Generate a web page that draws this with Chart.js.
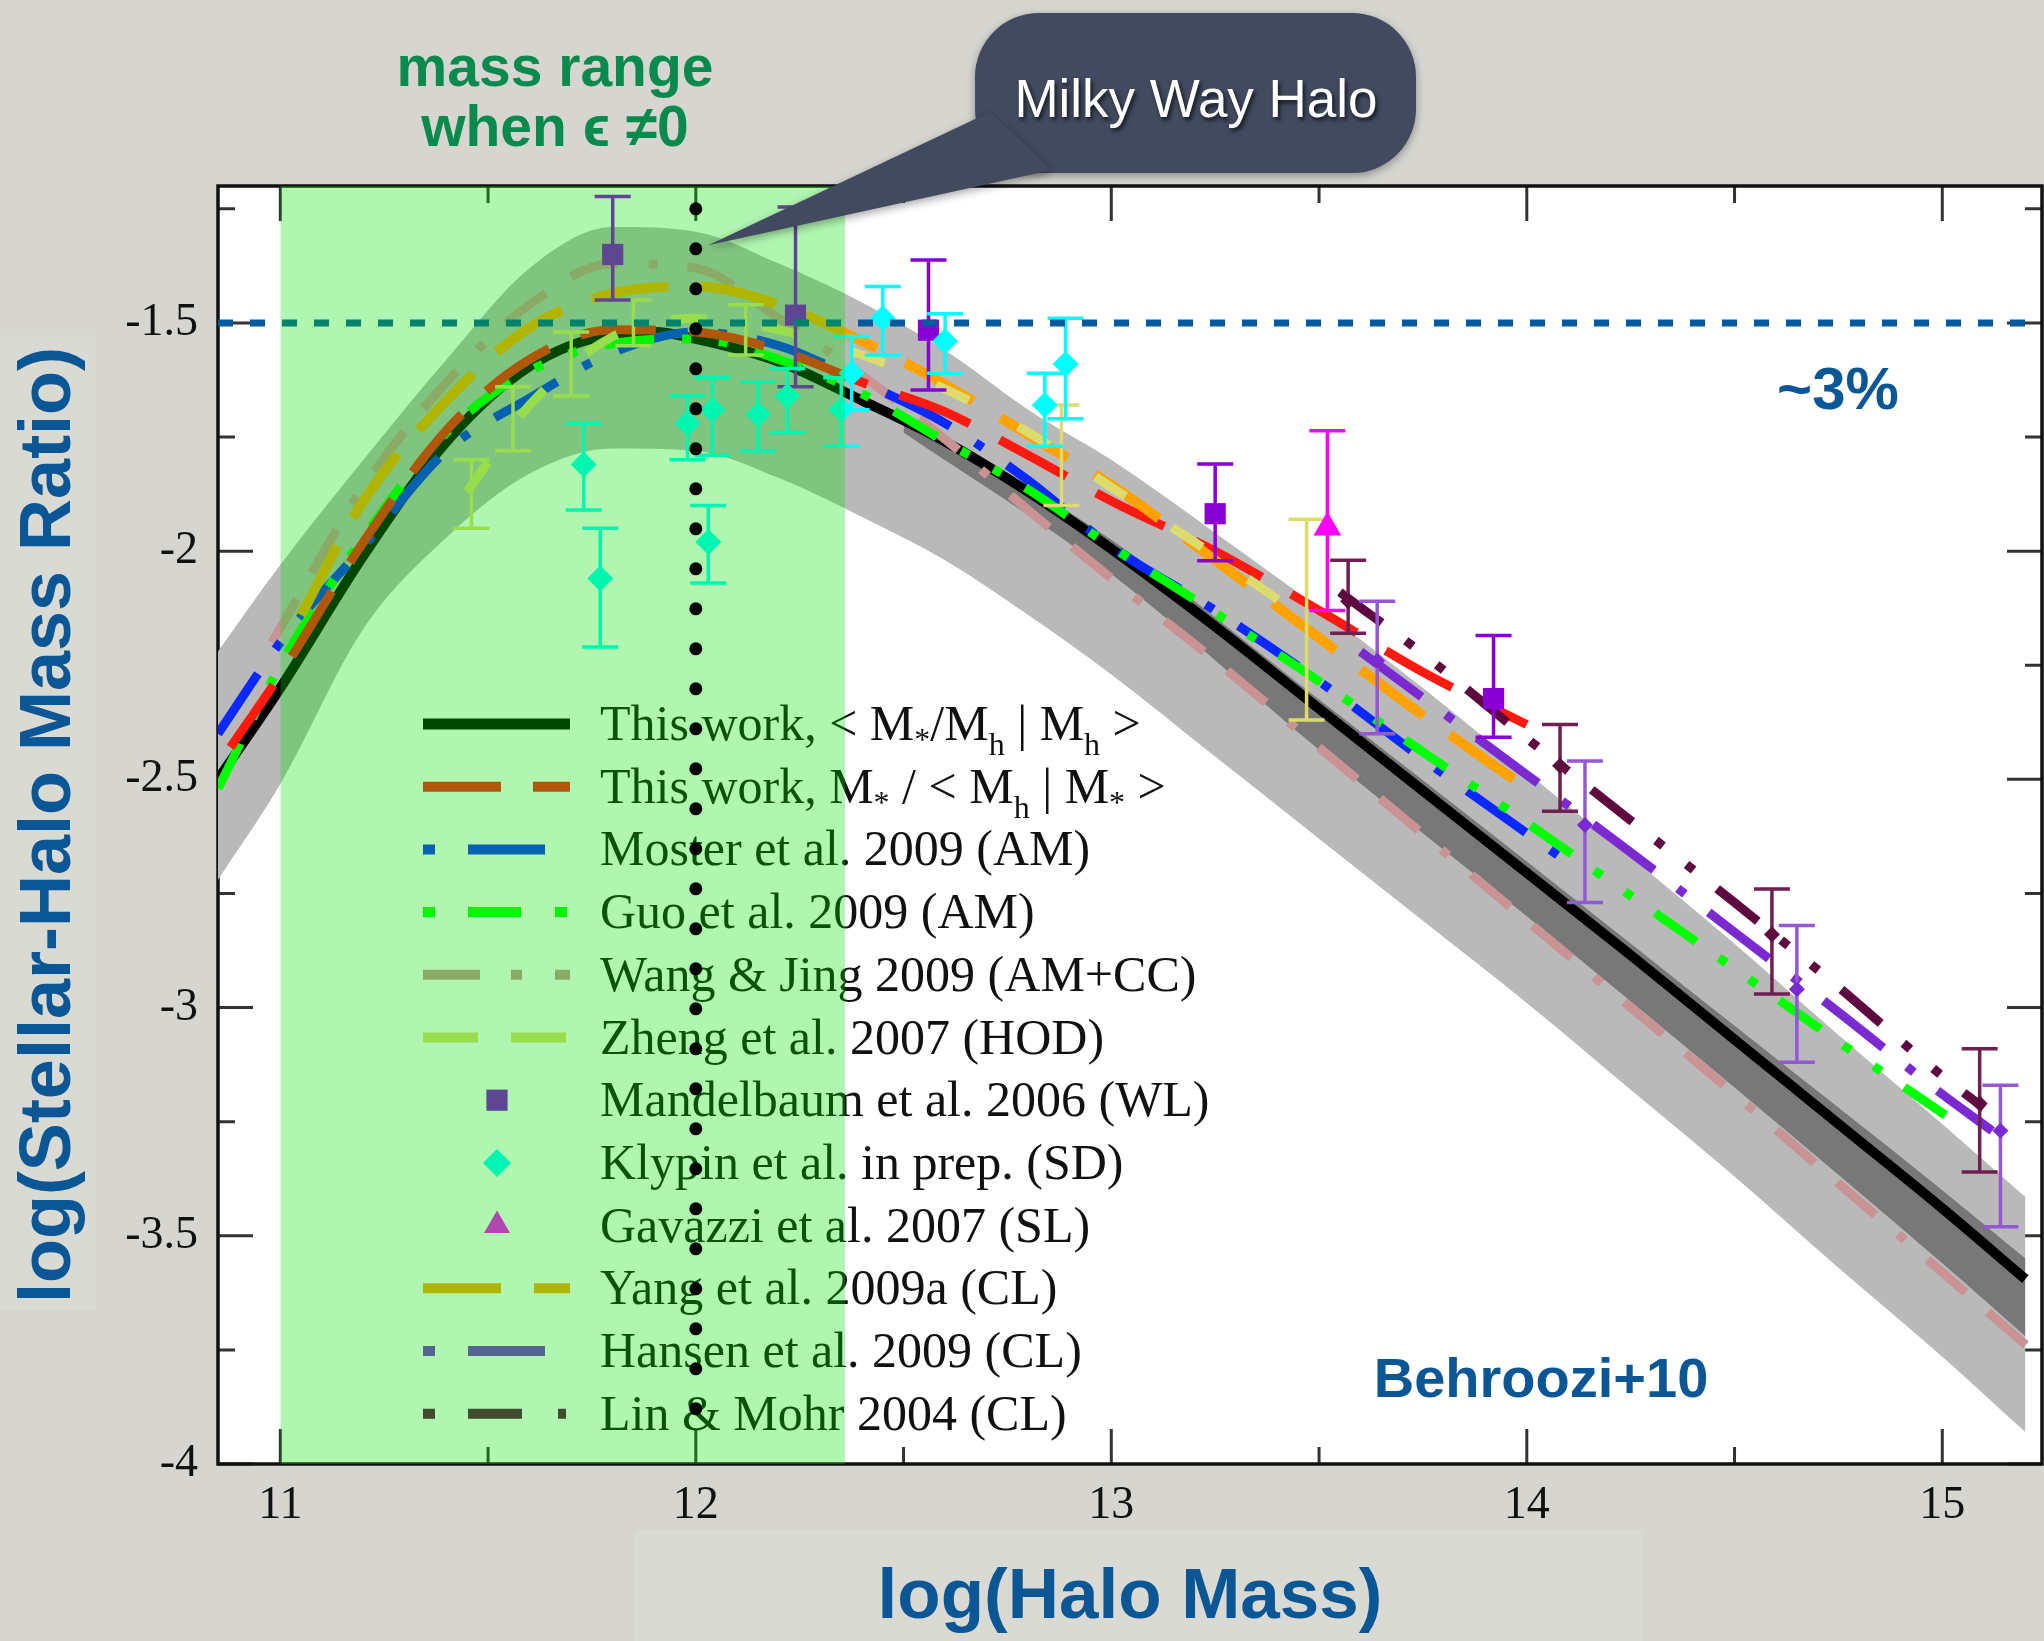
<!DOCTYPE html>
<html>
<head>
<meta charset="utf-8">
<title>Stellar-halo mass ratio</title>
<script src="https://cdn.jsdelivr.net/npm/chart.js@4.4.1/dist/chart.umd.min.js"></script>
<style>
  html, body { margin: 0; padding: 0; background: #d6d5d0; overflow: hidden; }
  #wrap { position: relative; width: 2044px; height: 1641px; }
  #smhm { display: block; }
</style>
</head>
<body>
<div id="wrap"><canvas id="smhm" width="2044" height="1641"></canvas></div>
<script>
// axis ranges and ticks
const xMin = 10.85, xMax = 15.24;
const yMin = -4, yMax = -1.2;
const xTickValues = [11, 12, 13, 14, 15];
const xMinorValues = [11.5, 12.5, 13.5, 14.5];
const yTickValues = [-4, -3.5, -3, -2.5, -2, -1.5];
const yMinorValues = [-3.75, -3.25, -2.75, -2.25, -1.75, -1.25];

// grey scatter band around "this work"
const bandX    = [10.85, 11.0, 11.2, 11.4, 11.6, 11.8, 12.0, 12.2, 12.4, 12.6, 12.8, 13.0, 13.25, 13.5, 13.75, 14.0, 14.25, 14.5, 14.75, 15.0, 15.2];
const bandHigh = [-2.22, -2.03, -1.80, -1.58, -1.38, -1.29, -1.30, -1.37, -1.455, -1.56, -1.69, -1.80, -1.96, -2.125, -2.30, -2.485, -2.67, -2.86, -3.06, -3.255, -3.415];
const bandLow  = [-2.72, -2.51, -2.17, -1.97, -1.83, -1.775, -1.78, -1.84, -1.925, -2.02, -2.14, -2.27, -2.45, -2.63, -2.81, -2.99, -3.18, -3.37, -3.57, -3.765, -3.93];
const innerX    = [12.5, 13.0, 13.5, 14.0, 14.5, 15.0, 15.2];
const innerHigh = [-1.70, -1.975, -2.325, -2.68, -3.04, -3.40, -3.55];
const innerLow  = [-1.74, -2.05, -2.435, -2.80, -3.175, -3.56, -3.72];

// model curves
const thisWorkX = [10.85, 11.0, 11.2, 11.4, 11.6, 11.8, 11.9, 12.0, 12.2, 12.4, 12.6, 12.8, 13.0, 13.25, 13.5, 13.75, 14.0, 14.25, 14.5, 14.75, 15.0, 15.2];
const thisWorkY = [-2.50, -2.30, -2.01, -1.76, -1.595, -1.525, -1.52, -1.535, -1.585, -1.67, -1.76, -1.87, -1.995, -2.165, -2.345, -2.525, -2.705, -2.885, -3.07, -3.255, -3.44, -3.595];
const altX = [10.88, 11.0, 11.2, 11.4, 11.6, 11.8, 12.0, 12.2, 12.4, 12.6, 12.8, 13.0, 13.25, 13.5, 13.75, 14.0];
const altY = [-2.43, -2.27, -1.98, -1.735, -1.58, -1.515, -1.52, -1.56, -1.63, -1.695, -1.79, -1.89, -2.0, -2.13, -2.265, -2.38];
const mosterX = [10.85, 11.0, 11.2, 11.4, 11.6, 11.8, 12.0, 12.2, 12.4, 12.6, 12.8, 13.0, 13.25, 13.5, 13.75, 14.08];
const mosterY = [-2.40, -2.20, -1.99, -1.78, -1.665, -1.565, -1.52, -1.55, -1.63, -1.72, -1.845, -1.99, -2.13, -2.285, -2.455, -2.67];
const guoX = [10.85, 11.0, 11.2, 11.4, 11.6, 11.8, 12.0, 12.2, 12.4, 12.6, 12.8, 13.0, 13.25, 13.5, 13.75, 14.0, 14.25, 14.5, 14.75, 15.03];
const guoY = [-2.52, -2.25, -1.97, -1.74, -1.605, -1.545, -1.535, -1.58, -1.655, -1.76, -1.865, -1.99, -2.135, -2.285, -2.44, -2.595, -2.755, -2.915, -3.075, -3.25];
const wangX = [10.98, 11.2, 11.4, 11.6, 11.8, 12.0, 12.2, 12.4, 12.6, 12.8, 13.0, 13.25, 13.5, 13.75, 14.0, 14.25, 14.5, 14.75, 15.0, 15.24];
const wangY = [-2.2, -1.86, -1.63, -1.46, -1.37, -1.38, -1.49, -1.615, -1.755, -1.91, -2.06, -2.24, -2.43, -2.62, -2.81, -3.0, -3.19, -3.385, -3.58, -3.77];
const zhengX = [11.45, 11.6, 11.8, 12.0, 12.2, 12.4, 12.6, 12.8, 13.0, 13.2, 13.47];
const zhengY = [-1.87, -1.68, -1.53, -1.49, -1.515, -1.57, -1.645, -1.74, -1.86, -1.98, -2.15];
const yangX = [11.05, 11.2, 11.4, 11.6, 11.8, 12.0, 12.2, 12.4, 12.6, 12.8, 13.0, 13.25, 13.5, 13.75, 14.0];
const yangY = [-2.14, -1.89, -1.67, -1.51, -1.435, -1.42, -1.46, -1.54, -1.635, -1.745, -1.855, -2.02, -2.19, -2.36, -2.52];
const hansenX = [13.6, 13.8, 14.0, 14.25, 14.5, 14.75, 15.0, 15.12];
const hansenY = [-2.22, -2.355, -2.49, -2.66, -2.835, -3.01, -3.19, -3.27];
const linX = [13.55, 13.75, 14.0, 14.25, 14.5, 14.75, 15.0, 15.1];
const linY = [-2.09, -2.225, -2.41, -2.59, -2.77, -2.955, -3.15, -3.22];

// data points with error bars
const mandX  = [11.80, 12.24, 12.56, 13.25, 13.92];
const mandY  = [-1.35, -1.483, -1.516, -1.918, -2.323];
const mandLo = [-1.45, -1.64, -1.647, -2.021, -2.408];
const mandHi = [-1.223, -1.246, -1.362, -1.809, -2.185];
const klypinX  = [11.73, 11.77, 11.98, 12.03, 12.04, 12.15, 12.22, 12.35, 12.375, 12.45, 12.60, 12.84, 12.89];
const klypinY  = [-1.81, -2.06, -1.72, -1.98, -1.69, -1.70, -1.66, -1.69, -1.61, -1.49, -1.54, -1.68, -1.59];
const klypinLo = [-1.91, -2.21, -1.80, -2.07, -1.79, -1.78, -1.74, -1.77, -1.69, -1.57, -1.61, -1.77, -1.71];
const klypinHi = [-1.72, -1.95, -1.66, -1.90, -1.62, -1.63, -1.60, -1.62, -1.53, -1.42, -1.48, -1.61, -1.49];
const gavX = [13.52], gavY = [-1.948], gavLo = [-2.13], gavHi = [-1.736];
const zhengErrX  = [11.46, 11.56, 11.70, 11.85, 12.12, 12.88, 13.47];
const zhengErrY  = [-1.87, -1.71, -1.59, -1.50, -1.51, -1.79, -2.15];
const zhengErrLo = [-1.95, -1.78, -1.66, -1.55, -1.57, -1.90, -2.37];
const zhengErrHi = [-1.80, -1.64, -1.52, -1.45, -1.46, -1.68, -1.93];
const linPtX  = [13.57, 14.08, 14.59, 15.09];
const linPtY  = [-2.11, -2.47, -2.84, -3.21];
const linPtLo = [-2.18, -2.57, -2.97, -3.36];
const linPtHi = [-2.02, -2.38, -2.74, -3.09];
const hanPtX  = [13.64, 14.14, 14.65, 15.14];
const hanPtY  = [-2.24, -2.60, -2.96, -3.27];
const hanPtLo = [-2.40, -2.77, -3.12, -3.48];
const hanPtHi = [-2.11, -2.46, -2.82, -3.17];

// reference marks
const threePercent = -1.5;
const massRange = [11.0, 12.36];
const milkyWay = 12.0;
const milkyWaySpan = [-1.25, -3.9];

const fontSerif = '"Liberation Serif", "Times New Roman", serif';
const fontSans = '"Liberation Sans", Arial, "DejaVu Sans", sans-serif';
const titleBlue = '#0b5796';

const styles = {
  thisWork: {color: '#000000', width: 10, dash: []},
  alt:      {color: '#ff1a10', width: 9, dash: [76, 34]},
  moster:   {color: '#0a28ff', width: 9, dash: [72, 30, 9, 30]},
  guo:      {color: '#00ff00', width: 9, dash: [50, 28, 9, 28, 9, 28]},
  wang:     {color: '#c99393', width: 9, dash: [50, 30, 50, 30, 9, 30]},
  zheng:    {color: '#dcdc6e', width: 9, dash: [36, 56]},
  yang:     {color: '#ffa200', width: 10, dash: [78, 32]},
  hansen:   {color: '#7a2ad0', width: 9, dash: [76, 30, 9, 30]},
  lin:      {color: '#5e0a40', width: 9, dash: [52, 30, 9, 30, 9, 30]}
};
const mandColor = '#8a00d4', klypinColor = '#00ffff', gavColor = '#ff00ff';

const legendRows = [
  {text: 'This work, < M_{*}/M_{h} | M_{h} >', st: styles.thisWork, dash: []},
  {text: 'This work, M_{*} / < M_{h} | M_{*} >', st: styles.alt, dash: [78, 32]},
  {text: 'Moster et al. 2009 (AM)', st: styles.moster, dash: [12, 33, 77, 40]},
  {text: 'Guo et al. 2009 (AM)', st: styles.guo, dash: [12, 33, 53, 34, 12, 40]},
  {text: 'Wang & Jing 2009 (AM+CC)', st: styles.wang, dash: [57, 31, 11, 33, 15, 40]},
  {text: 'Zheng et al. 2007 (HOD)', st: styles.zheng, dash: [55, 33]},
  {text: 'Mandelbaum et al. 2006 (WL)', marker: 'rect', color: mandColor, r: 15},
  {text: 'Klypin et al. in prep. (SD)', marker: 'rectRot', color: klypinColor, r: 14},
  {text: 'Gavazzi et al. 2007 (SL)', marker: 'triangle', color: gavColor, r: 15},
  {text: 'Yang et al. 2009a (CL)', st: styles.yang, dash: [78, 33]},
  {text: 'Hansen et al. 2009 (CL)', st: styles.hansen, dash: [12, 33, 77, 40]},
  {text: 'Lin & Mohr 2004 (CL)', st: styles.lin, dash: [12, 33, 54, 36, 8, 40]}
];

const pts = (xs, ys) => xs.map((x, i) => ({x: x, y: ys[i]}));

function curve(label, xs, ys, st, order) {
  return {
    label: label, data: pts(xs, ys), order: order,
    borderColor: st.color, borderWidth: st.width, borderDash: st.dash,
    borderCapStyle: 'butt', pointRadius: 0, fill: false,
    cubicInterpolationMode: 'monotone'
  };
}

function markers(label, xs, ys, lo, hi, color, style, radius, order, barColor) {
  return {
    label: label, data: pts(xs, ys), order: order, showLine: false,
    pointStyle: style, pointRadius: radius, pointBorderWidth: 0,
    pointBackgroundColor: color, backgroundColor: color, borderColor: color,
    errLo: lo, errHi: hi, errColor: barColor || color
  };
}

const datasets = [
  {label: 'milky way', data: [{x: milkyWay, y: milkyWaySpan[0]}, {x: milkyWay, y: milkyWaySpan[1]}],
   borderColor: '#000', borderWidth: 13, borderDash: [0, 40], borderCapStyle: 'round',
   pointRadius: 0, order: 1},
  {label: 'mass range', data: [{x: massRange[0], y: yMax}, {x: massRange[1], y: yMax}],
   borderWidth: 0, pointRadius: 0, fill: 'start', backgroundColor: 'rgba(0,226,0,0.31)', order: 2},
  {label: '3%', data: [{x: xMin, y: threePercent}, {x: xMax, y: threePercent}],
   borderColor: '#005a9c', borderWidth: 7, borderDash: [15, 17], pointRadius: 0, order: 3},
  markers('Gavazzi', gavX, gavY, gavLo, gavHi, gavColor, 'triangle', 16, 4),
  markers('Klypin', klypinX, klypinY, klypinLo, klypinHi, klypinColor, 'rectRot', 13, 5),
  markers('Mandelbaum', mandX, mandY, mandLo, mandHi, mandColor, 'rect', 15, 6),
  markers('Zheng err', zhengErrX, zhengErrY, zhengErrLo, zhengErrHi, styles.zheng.color, 'circle', 0, 6.5),
  markers('Hansen pts', hanPtX, hanPtY, hanPtLo, hanPtHi, '#7a2ad0', 'rectRot', 8, 7, '#9458d6'),
  markers('Lin pts', linPtX, linPtY, linPtLo, linPtHi, '#5e0a40', 'rectRot', 8, 8, '#6e2050'),
  curve('Lin & Mohr', linX, linY, styles.lin, 9),
  curve('Hansen', hansenX, hansenY, styles.hansen, 10),
  curve('Zheng', zhengX, zhengY, styles.zheng, 11),
  curve('Yang', yangX, yangY, styles.yang, 12),
  curve('This work alt', altX, altY, styles.alt, 13),
  curve('Guo', guoX, guoY, styles.guo, 14),
  curve('Moster', mosterX, mosterY, styles.moster, 15),
  curve('Wang & Jing', wangX, wangY, styles.wang, 16),
  curve('This work', thisWorkX, thisWorkY, styles.thisWork, 17),
  {label: 'inner high', data: pts(innerX, innerHigh), borderWidth: 0, pointRadius: 0,
   fill: '+1', backgroundColor: '#787878', cubicInterpolationMode: 'monotone', order: 18},
  {label: 'inner low', data: pts(innerX, innerLow), borderWidth: 0, pointRadius: 0,
   cubicInterpolationMode: 'monotone', order: 18},
  {label: 'band high', data: pts(bandX, bandHigh), borderWidth: 0, pointRadius: 0,
   fill: '+1', backgroundColor: '#b9b9b9', cubicInterpolationMode: 'monotone', order: 19},
  {label: 'band low', data: pts(bandX, bandLow), borderWidth: 0, pointRadius: 0,
   cubicInterpolationMode: 'monotone', order: 19}
];

// slide background, white plot area
const paperPlugin = {
  id: 'paper',
  beforeDraw(chart) {
    const {ctx, chartArea: a} = chart;
    ctx.save();
    ctx.fillStyle = '#dadad5';
    ctx.fillRect(0, 335, 96, 975);
    ctx.fillRect(635, 1530, 1008, 111);
    ctx.fillStyle = '#ffffff';
    ctx.fillRect(a.left, a.top, a.right - a.left, a.bottom - a.top);
    ctx.restore();
  }
};

// frame with inward ticks, and the legend inside the plot
function drawRich(ctx, text, x, base) {
  text.split(/(_\{[^}]*\})/).forEach(part => {
    if (!part) return;
    const sub = part.startsWith('_{');
    const s = sub ? part.slice(2, -1) : part;
    ctx.font = (sub ? 32 : 50) + 'px ' + fontSerif;
    ctx.fillText(s, x, base + (sub ? (s === '*' ? 10 : 15) : 0));
    x += ctx.measureText(s).width;
  });
}

const framePlugin = {
  id: 'frame',
  beforeDatasetsDraw(chart) {
    const {ctx, chartArea: a, scales: {x, y}} = chart;
    ctx.save();
    ctx.strokeStyle = '#333';
    ctx.lineWidth = 3;
    ctx.beginPath();
    const xt = (vals, len) => vals.forEach(v => {
      const p = x.getPixelForValue(v);
      ctx.moveTo(p, a.bottom); ctx.lineTo(p, a.bottom - len);
      ctx.moveTo(p, a.top); ctx.lineTo(p, a.top + len);
    });
    const yt = (vals, len) => vals.forEach(v => {
      const p = y.getPixelForValue(v);
      ctx.moveTo(a.left, p); ctx.lineTo(a.left + len, p);
      ctx.moveTo(a.right, p); ctx.lineTo(a.right - len, p);
    });
    xt(xTickValues, 35); xt(xMinorValues, 17);
    yt(yTickValues, 35); yt(yMinorValues, 17);
    ctx.stroke();
    ctx.strokeStyle = '#111';
    ctx.lineWidth = 3.5;
    ctx.strokeRect(a.left, a.top, a.right - a.left, a.bottom - a.top);

    // legend
    const x0 = 423, x1 = 570, tx = 600, top = 724, step = 62.7;
    legendRows.forEach((row, i) => {
      const ry = top + i * step;
      if (row.marker) {
        ctx.fillStyle = row.color;
        Chart.helpers.drawPoint(ctx, {pointStyle: row.marker, radius: row.r, borderWidth: 0, rotation: 0}, 497, ry);
      } else {
        ctx.strokeStyle = row.st.color;
        ctx.lineWidth = row.st.color === '#000000' ? 11 : 10;
        ctx.lineCap = 'butt';
        ctx.setLineDash(row.dash);
        ctx.beginPath();
        ctx.moveTo(x0, ry); ctx.lineTo(x1, ry);
        ctx.stroke();
        ctx.setLineDash([]);
      }
      ctx.fillStyle = '#111';
      ctx.textBaseline = 'alphabetic';
      drawRich(ctx, row.text, tx, ry + 16);
    });
    ctx.restore();
  }
};

// error bars drawn under each marker set
const errorBarPlugin = {
  id: 'errorBars',
  beforeDatasetDraw(chart, args) {
    const ds = chart.data.datasets[args.index];
    if (!ds.errLo) return;
    const {ctx, scales: {x, y}} = chart;
    ctx.save();
    ctx.strokeStyle = ds.errColor;
    ctx.lineWidth = 3.5;
    const half = 18;
    ds.data.forEach((p, i) => {
      const px = x.getPixelForValue(p.x);
      const lo = y.getPixelForValue(ds.errLo[i]);
      const hi = y.getPixelForValue(ds.errHi[i]);
      ctx.beginPath();
      ctx.moveTo(px, lo); ctx.lineTo(px, hi);
      ctx.moveTo(px - half, lo); ctx.lineTo(px + half, lo);
      ctx.moveTo(px - half, hi); ctx.lineTo(px + half, hi);
      ctx.stroke();
    });
    ctx.restore();
  }
};

// slide annotations
function roundRect(ctx, x, y, w, h, r) {
  ctx.beginPath();
  ctx.moveTo(x + r, y);
  ctx.arcTo(x + w, y, x + w, y + h, r);
  ctx.arcTo(x + w, y + h, x, y + h, r);
  ctx.arcTo(x, y + h, x, y, r);
  ctx.arcTo(x, y, x + w, y, r);
  ctx.closePath();
}

const notesPlugin = {
  id: 'notes',
  afterDraw(chart) {
    const {ctx, scales: {x, y}} = chart;
    ctx.save();
    ctx.textAlign = 'center';
    ctx.textBaseline = 'alphabetic';

    ctx.fillStyle = '#0b8a4e';
    ctx.font = 'bold 57px ' + fontSans;
    ctx.fillText('mass range', 555, 86);
    ctx.fillText('when ϵ ≠0', 555, 146);

    ctx.fillStyle = titleBlue;
    ctx.font = 'bold 60px ' + fontSans;
    ctx.fillText('~3%', 1838, 409);
    ctx.font = 'bold 56px ' + fontSans;
    ctx.fillText('Behroozi+10', 1541, 1397);

    // callout pointing at the Milky Way halo mass
    const tipX = x.getPixelForValue(milkyWay + 0.03), tipY = y.getPixelForValue(-1.33);
    ctx.fillStyle = '#414a5f';
    ctx.shadowColor = 'rgba(0,0,0,0.35)';
    ctx.shadowBlur = 8;
    ctx.shadowOffsetY = 3;
    roundRect(ctx, 975, 13, 441, 160, 64);
    ctx.fill();
    ctx.beginPath();
    ctx.moveTo(tipX, tipY);
    ctx.lineTo(990, 112);
    ctx.lineTo(1052, 170);
    ctx.closePath();
    ctx.fill();
    ctx.shadowColor = 'rgba(0,0,0,0.7)';
    ctx.shadowBlur = 4;
    ctx.shadowOffsetX = 2;
    ctx.shadowOffsetY = 3;
    ctx.fillStyle = '#ffffff';
    ctx.font = '53px ' + fontSans;
    ctx.fillText('Milky Way Halo', 1196, 117);
    ctx.restore();
  }
};

const tickFont = {family: fontSerif, size: 46};

new Chart(document.getElementById('smhm'), {
  type: 'line',
  data: {datasets: datasets},
  plugins: [paperPlugin, framePlugin, errorBarPlugin, notesPlugin],
  options: {
    responsive: false,
    animation: false,
    events: [],
    layout: {autoPadding: false, padding: {left: 0, right: 2, top: 186, bottom: 0}},
    plugins: {legend: {display: false}, tooltip: {enabled: false}},
    scales: {
      x: {
        type: 'linear', min: xMin, max: xMax,
        afterBuildTicks: s => { s.ticks = xTickValues.map(v => ({value: v})); },
        afterFit: s => { s.height = 177; },
        grid: {display: false, drawTicks: false},
        border: {display: false},
        ticks: {font: tickFont, color: '#111', padding: 14, maxRotation: 0, autoSkip: false, callback: v => String(v)},
        title: {display: true, text: 'log(Halo Mass)', color: titleBlue, padding: 0,
                font: {family: fontSans, size: 71, weight: 'bold'}}
      },
      y: {
        type: 'linear', min: yMin, max: yMax,
        afterBuildTicks: s => { s.ticks = yTickValues.map(v => ({value: v})); },
        afterFit: s => { s.width = 218; },
        grid: {display: false, drawTicks: false},
        border: {display: false},
        ticks: {font: tickFont, color: '#111', padding: 20, autoSkip: false, callback: v => String(v)},
        title: {display: true, text: 'log(Stellar-Halo Mass Ratio)', color: titleBlue, padding: {top: 7, bottom: 0},
                font: {family: fontSans, size: 72, weight: 'bold'}}
      }
    }
  }
});
</script>
</body>
</html>
